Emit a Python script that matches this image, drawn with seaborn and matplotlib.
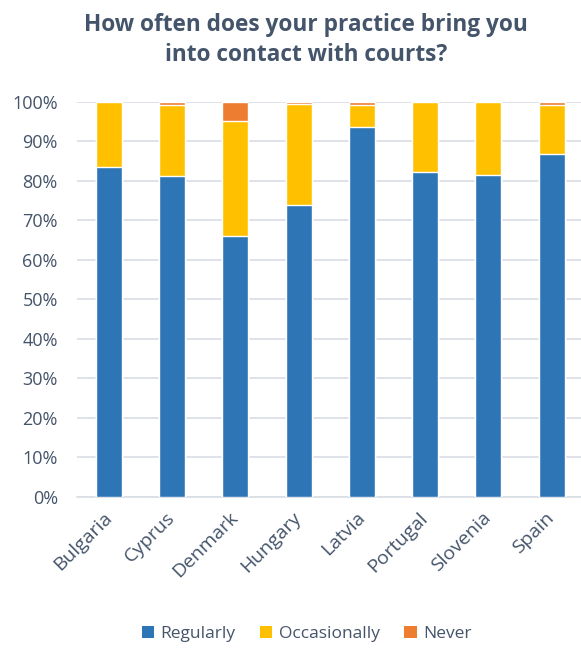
import matplotlib
matplotlib.use("Agg")
import matplotlib.pyplot as plt
import seaborn as sns
import pandas as pd
from matplotlib.patches import Patch
from matplotlib.ticker import PercentFormatter

countries = ["Bulgaria", "Cyprus", "Denmark", "Hungary", "Latvia", "Portugal", "Slovenia", "Spain"]
regularly = [83.4, 81.3, 66.1, 73.9, 93.5, 82.3, 81.4, 86.9]
occasionally = [16.6, 17.9, 29.1, 25.6, 5.7, 17.7, 18.6, 12.3]
never = [0.0, 0.8, 4.8, 0.5, 0.8, 0.0, 0.0, 0.8]

series = ["Regularly", "Occasionally", "Never"]
colors = ["#2E75B6", "#FFC000", "#ED7D31"]
text_color = "#44546A"

sns.set_theme(style="white")
plt.rcParams["font.family"] = ["Open Sans", "DejaVu Sans"]

df = pd.DataFrame({"country": countries, "Regularly": regularly,
                   "Occasionally": occasionally, "Never": never})
df["c1"] = df["Regularly"]
df["c2"] = df["Regularly"] + df["Occasionally"]
df["c3"] = df["c2"] + df["Never"]

fig = plt.figure(figsize=(5.81, 6.48), dpi=100)
ax = fig.add_axes([0.133, 0.233, 0.871, 0.610])

for col, color in zip(["c3", "c2", "c1"], colors[::-1]):
    sns.barplot(data=df, x="country", y=col, color=color, width=0.41,
                saturation=1, ax=ax, zorder=3)

ax.set_ylim(0, 100)
ax.set_yticks(range(0, 101, 10))
ax.yaxis.set_major_formatter(PercentFormatter(100, decimals=0))
ax.grid(axis="y", color="#D9DEE5", linewidth=1.2, zorder=0)
ax.set_axisbelow(True)
for s in ["top", "right", "left"]:
    ax.spines[s].set_visible(False)
ax.spines["bottom"].set_color("#D9DEE5")
ax.spines["bottom"].set_linewidth(1.2)
ax.set_xlabel("")
ax.set_ylabel("")
ax.tick_params(axis="y", labelsize=13, colors=text_color, length=0, pad=14)
ax.tick_params(axis="x", labelsize=14, colors=text_color, length=0, pad=13)
plt.setp(ax.get_xticklabels(), rotation=45, ha="right", va="center", rotation_mode="anchor")

fig.text(0.527, 0.938, "How often does your practice bring you\ninto contact with courts?",
         ha="center", va="center", fontsize=16.3, fontweight="bold", color=text_color,
         linespacing=1.3)

handles = [Patch(facecolor=c, edgecolor="none") for c in colors]
fig.legend(handles, series, loc="center", bbox_to_anchor=(0.528, 0.022), ncol=3,
           frameon=False, fontsize=12.5, handlelength=0.7, handleheight=0.7,
           handletextpad=0.4, columnspacing=1.4, labelcolor=text_color)

fig.savefig("out.png", dpi=100)
